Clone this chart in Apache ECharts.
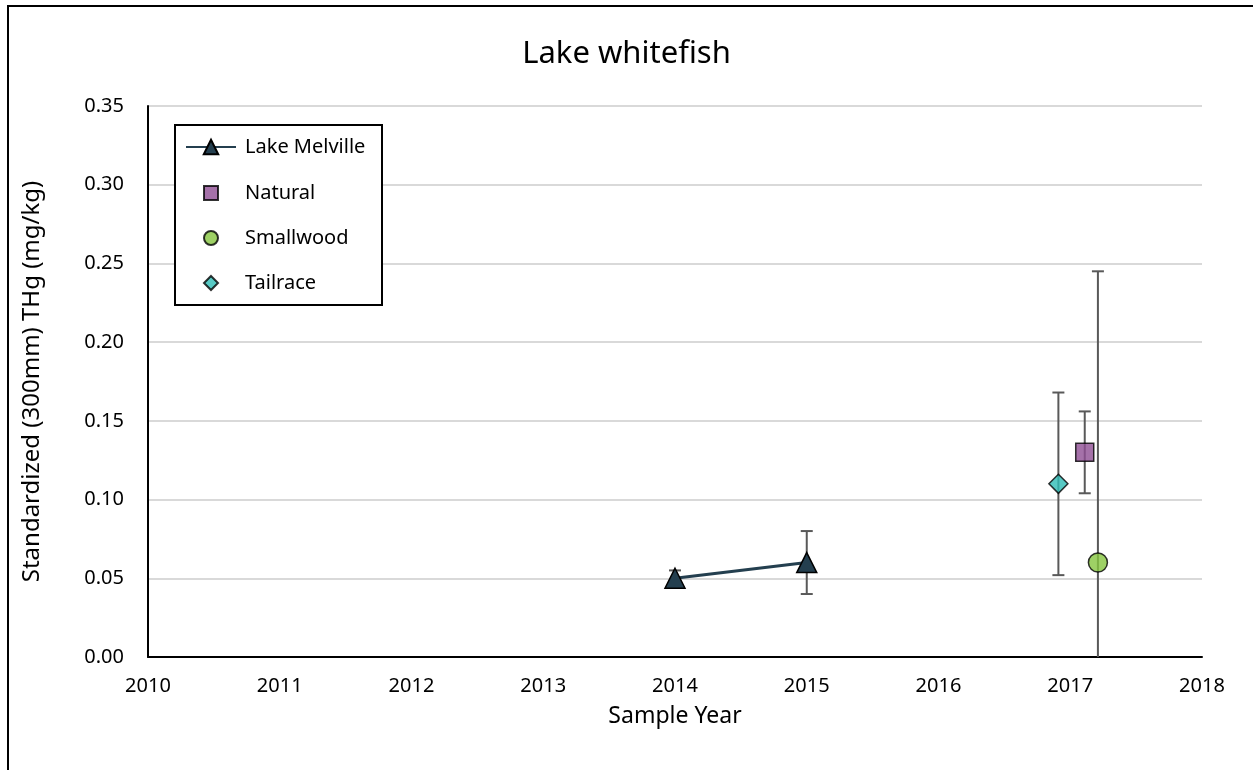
<!DOCTYPE html>
<html lang="en">
<head>
    <meta charset="UTF-8">
    <title>Lake whitefish</title>
    <script src="https://cdn.jsdelivr.net/npm/echarts@6/dist/echarts.min.js"></script>
    <style>
        html, body { margin: 0; padding: 0; background: #fff; }
    </style>
</head>
<body>
    <div id="chart" style="width: 1253px; height: 770px;"></div>
    <script>
        // data
        var melvilleYears = [2014, 2015]
        var melvilleValues = [0.05, 0.06]
        var melvilleErrors = [0.005, 0.02]

        var naturalPoint = [2017.11, 0.13]
        var naturalError = 0.026

        var smallwoodPoint = [2017.21, 0.06]
        var smallwoodError = 0.185

        var tailracePoint = [2016.91, 0.11]
        var tailraceError = 0.058

        var xTicks = [2010, 2011, 2012, 2013, 2014, 2015, 2016, 2017, 2018]
        var yTicks = [0, 0.05, 0.1, 0.15, 0.2, 0.25, 0.3, 0.35]

        var font = "'Noto Sans', sans-serif"

        // error bar rows: x, low, high
        var errorRows = []
        melvilleYears.forEach(function (y, i) {
            errorRows.push([y, melvilleValues[i] - melvilleErrors[i], melvilleValues[i] + melvilleErrors[i]])
        })
        errorRows.push([tailracePoint[0], tailracePoint[1] - tailraceError, tailracePoint[1] + tailraceError])
        errorRows.push([naturalPoint[0], naturalPoint[1] - naturalError, naturalPoint[1] + naturalError])
        errorRows.push([smallwoodPoint[0], smallwoodPoint[1] - smallwoodError, smallwoodPoint[1] + smallwoodError])

        function renderError(params, api) {
            var x = api.value(0)
            var lo = api.coord([x, Math.max(api.value(1), 0)])
            var hi = api.coord([x, api.value(2)])
            var capW = 6
            var style = { stroke: '#595959', lineWidth: 2 }
            var kids = [
                { type: 'line', shape: { x1: hi[0], y1: hi[1], x2: lo[0], y2: lo[1] }, style: style },
                { type: 'line', shape: { x1: hi[0] - capW, y1: hi[1], x2: hi[0] + capW, y2: hi[1] }, style: style }
            ]
            if (api.value(1) >= 0) {
                kids.push({ type: 'line', shape: { x1: lo[0] - capW, y1: lo[1], x2: lo[0] + capW, y2: lo[1] }, style: style })
            }
            return { type: 'group', children: kids }
        }

        // one legend block per row so each icon can have its own size
        var legendRows = [
            { name: 'Lake Melville', y: 147, w: 50, h: 18 },
            { name: 'Natural', y: 193, w: 14, h: 14 },
            { name: 'Smallwood', y: 238, w: 14, h: 14 },
            { name: 'Tailrace', y: 283, w: 14, h: 14 }
        ]
        var legends = legendRows.map(function (r) {
            var left = 210 - r.w / 2
            return {
                data: [r.name],
                left: left,
                top: r.y - 14,
                padding: 0,
                itemWidth: r.w,
                itemHeight: r.h,
                selectedMode: false,
                textStyle: {
                    fontFamily: font, fontSize: 20, color: '#000', lineHeight: 28,
                    padding: [0, 0, 0, 244 - (left + r.w + 5)]
                }
            }
        })

        var chart = echarts.init(document.getElementById('chart'))

        var option = {
            backgroundColor: '#fff',
            animation: false,
            title: {
                text: 'Lake whitefish',
                left: 'center',
                top: 34,
                textStyle: { fontFamily: font, fontSize: 31, fontWeight: 'normal', color: '#000' }
            },
            graphic: [
                {
                    type: 'rect',
                    shape: { x: 8, y: 6, width: 1300, height: 820 },
                    style: { fill: 'none', stroke: '#000', lineWidth: 2 },
                    z: 100
                },
                {
                    type: 'rect',
                    shape: { x: 175, y: 125, width: 207, height: 180 },
                    style: { fill: '#fff', stroke: '#000', lineWidth: 2 },
                    z: 2
                }
            ],
            legend: legends,
            grid: { left: 148, right: 51, top: 106, bottom: 113 },
            xAxis: {
                type: 'value',
                min: 2010,
                max: 2018,
                interval: 1,
                name: 'Sample Year',
                nameLocation: 'middle',
                nameGap: 48,
                nameTextStyle: { fontFamily: font, fontSize: 23, color: '#000' },
                axisLine: { lineStyle: { color: '#000', width: 2 } },
                axisTick: { show: false },
                splitLine: { show: false },
                axisLabel: {
                    margin: 19,
                    fontFamily: font, fontSize: 20, color: '#000',
                    formatter: function (v) { return xTicks.indexOf(v) >= 0 ? String(v) : '' }
                }
            },
            yAxis: {
                type: 'value',
                min: 0,
                max: 0.35,
                interval: 0.05,
                name: 'Standardized (300mm) THg (mg/kg)',
                nameLocation: 'middle',
                nameGap: 104,
                nameTextStyle: { fontFamily: font, fontSize: 24, color: '#000' },
                axisLine: { show: true, lineStyle: { color: '#000', width: 2 } },
                axisTick: { show: false },
                splitLine: { lineStyle: { color: '#d9d9d9', width: 2 } },
                axisLabel: {
                    margin: 24,
                    fontFamily: font, fontSize: 20, color: '#000',
                    formatter: function (v) { return v.toFixed(2) }
                }
            },
            series: [
                {
                    name: 'errors',
                    type: 'custom',
                    renderItem: renderError,
                    data: errorRows,
                    z: 1,
                    silent: true,
                    clip: true
                },
                {
                    name: 'Lake Melville',
                    type: 'line',
                    symbol: 'triangle',
                    symbolSize: 20,
                    color: '#243f4f',
                    lineStyle: { color: '#243f4f', width: 3 },
                    itemStyle: { color: '#243f4f', borderColor: '#000', borderWidth: 1.5 },
                    data: melvilleYears.map(function (y, i) { return [y, melvilleValues[i]] }),
                    z: 3
                },
                {
                    name: 'Natural',
                    type: 'scatter',
                    symbol: 'rect',
                    symbolSize: 18,
                    itemStyle: { color: '#8e4e93', borderColor: '#000', borderWidth: 1.5 },
                    data: [naturalPoint],
                    z: 3
                },
                {
                    name: 'Smallwood',
                    type: 'scatter',
                    symbol: 'circle',
                    symbolSize: 19,
                    itemStyle: { color: '#86c53f', borderColor: '#000', borderWidth: 1.5 },
                    data: [smallwoodPoint],
                    z: 3
                },
                {
                    name: 'Tailrace',
                    type: 'scatter',
                    symbol: 'diamond',
                    symbolSize: 19,
                    itemStyle: { color: '#2ebdb7', borderColor: '#000', borderWidth: 1.5 },
                    data: [tailracePoint],
                    z: 3
                }
            ]
        }

        chart.setOption(option)
    </script>
</body>
</html>
